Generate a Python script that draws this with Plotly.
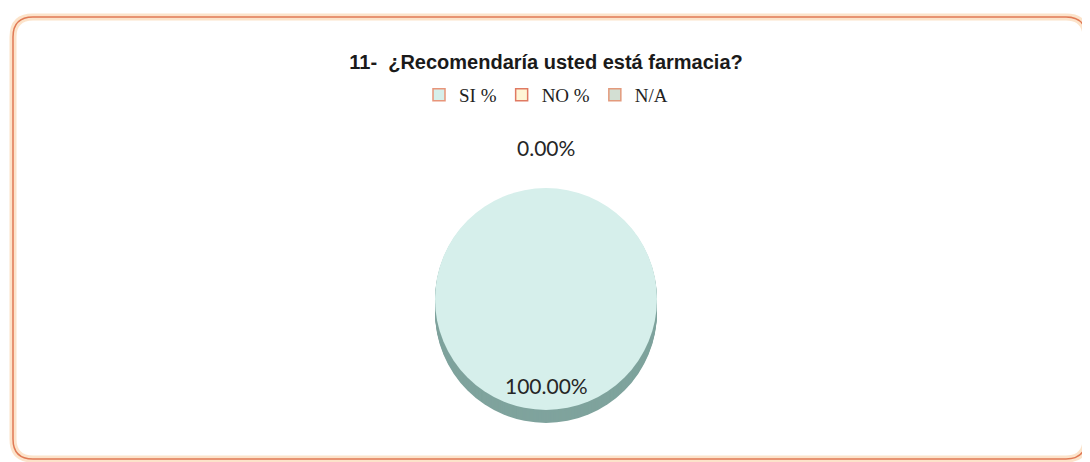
import plotly.graph_objects as go

# ---- data ----
labels = ["SI %", "NO %", "N/A"]
values = [100.0, 0.0, 0.0]
title_text = "11-  ¿Recomendaría usted está farmacia?"

face_colors = ["#d6efeb", "#fff6d6", "#d3dfd3"]
side_colors = ["#7fa39d", "#c9c2a4", "#9aa89a"]
legend_line = ["#e8957a", "#e07a62", "#e39a7c"]

# page body has an 8px margin: size the figure to fit and map target pixels
OFF = 8
W, H = 1090 - OFF, 462 - OFF
def px(x):
    return (x - OFF) / W
def py(y):
    return 1 - (y - OFF) / H

total = sum(values)
pct = [v / total * 100 for v in values]

cx, cy, d = 546, 299, 222  # pie centre / diameter in target pixels
def dom(cy_, d_):
    return dict(x=[px(cx - d_ / 2), px(cx + d_ / 2)], y=[py(cy_ + d_ / 2), py(cy_ - d_ / 2)])

fig = go.Figure()
# legend-only pie hidden behind
fig.add_trace(go.Pie(labels=labels, values=values, sort=False, textinfo="none",
                     marker=dict(colors=face_colors, line=dict(color=legend_line, width=1.5)),
                     domain=dom(cy, 4), showlegend=True, hoverinfo="skip"))
# side / depth
for k in range(13, 0, -1):
    fig.add_trace(go.Pie(labels=labels, values=values, sort=False, textinfo="none",
                         marker=dict(colors=side_colors, line=dict(width=0)),
                         domain=dom(cy + k, d), showlegend=False, hoverinfo="skip"))
# top face
fig.add_trace(go.Pie(labels=labels, values=values, sort=False, textinfo="none",
                     marker=dict(colors=face_colors, line=dict(width=0)),
                     domain=dom(cy, d), showlegend=False))

# data labels
label_pos = [(546, 385), (546, 147)]
texts = [f"{pct[0]:.2f}%", f"{pct[1]:.2f}%"]
for (x, y), t in zip(label_pos, texts):
    fig.add_annotation(x=px(x), y=py(y), xref="paper", yref="paper", text=t,
                       xanchor="center", yanchor="middle", showarrow=False,
                       font=dict(family="Lato, Carlito, sans-serif", size=21, color="#262626"))

# rounded frame
l, t_, r, b, rad = 13, 17, 1086, 459, 20
def P(x, y):
    return f"{px(x)} {py(y)}"
path = (f"M {P(l+rad, t_)} L {P(r-rad, t_)} Q {P(r, t_)} {P(r, t_+rad)} "
        f"L {P(r, b-rad)} Q {P(r, b)} {P(r-rad, b)} L {P(l+rad, b)} Q {P(l, b)} {P(l, b-rad)} "
        f"L {P(l, t_+rad)} Q {P(l, t_)} {P(l+rad, t_)} Z")
fig.add_shape(type="path", path=path, xref="paper", yref="paper",
              line=dict(color="rgba(250,200,150,0.5)", width=7), layer="below")
fig.add_shape(type="path", path=path, xref="paper", yref="paper",
              line=dict(color="#e07a55", width=1.5), layer="below")

fig.update_layout(
    width=W, height=H,
    margin=dict(l=0, r=0, t=0, b=0),
    paper_bgcolor="white", plot_bgcolor="white",
    title=dict(text=f"<b>{title_text}</b>", x=px(546), xanchor="center", y=py(62), yanchor="middle",
               font=dict(family="Liberation Sans, Arial, sans-serif", size=20, color="#1a1a1a")),
    legend=dict(orientation="h", x=px(546), xanchor="center", y=py(95), yanchor="middle",
                font=dict(family="Liberation Serif, serif", size=19, color="#222222"),
                itemwidth=30, traceorder="normal"),
)

fig.write_html("out.html")
